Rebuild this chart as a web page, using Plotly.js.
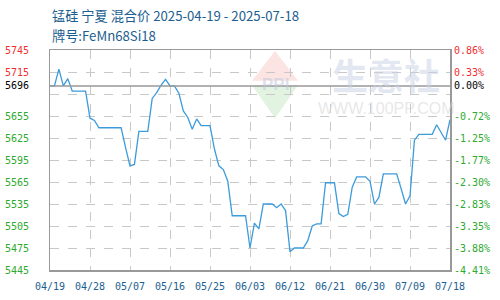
<!DOCTYPE html>
<html>
<head>
<meta charset="utf-8">
<script src="https://cdn.plot.ly/plotly-3.0.1.min.js"></script>
<style>html,body{margin:0;padding:0;background:#fff;}#chart{width:500px;height:300px;}</style>
</head>
<body>
<div id="chart"></div>
<script>
const dates = [
'2025-04-19','2025-04-20','2025-04-21','2025-04-22','2025-04-23','2025-04-24','2025-04-25','2025-04-26','2025-04-27','2025-04-28',
'2025-04-29','2025-04-30','2025-05-01','2025-05-02','2025-05-03','2025-05-04','2025-05-05','2025-05-06','2025-05-07','2025-05-08',
'2025-05-09','2025-05-10','2025-05-11','2025-05-12','2025-05-13','2025-05-14','2025-05-15','2025-05-16','2025-05-17','2025-05-18',
'2025-05-19','2025-05-20','2025-05-21','2025-05-22','2025-05-23','2025-05-24','2025-05-25','2025-05-26','2025-05-27','2025-05-28',
'2025-05-29','2025-05-30','2025-05-31','2025-06-01','2025-06-02','2025-06-03','2025-06-04','2025-06-05','2025-06-06','2025-06-07',
'2025-06-08','2025-06-09','2025-06-10','2025-06-11','2025-06-12','2025-06-13','2025-06-14','2025-06-15','2025-06-16','2025-06-17',
'2025-06-18','2025-06-19','2025-06-20','2025-06-21','2025-06-22','2025-06-23','2025-06-24','2025-06-25','2025-06-26','2025-06-27',
'2025-06-28','2025-06-29','2025-06-30','2025-07-01','2025-07-02','2025-07-03','2025-07-04','2025-07-05','2025-07-06','2025-07-07',
'2025-07-08','2025-07-09','2025-07-10','2025-07-11','2025-07-12','2025-07-13','2025-07-14','2025-07-15','2025-07-16','2025-07-17',
'2025-07-18'];
const prices = [
5696,5696,5719,5696,5706,5689,5689,5689,5689,5652,
5649,5639,5639,5639,5639,5639,5639,5612,5587,5589,
5634,5634,5634,5679,5687,5697,5705,5696,5696,5686,
5662,5653,5637,5651,5642,5642,5642,5610,5587,5582,
5566,5519,5519,5519,5519,5475,5509,5501,5535,5535,
5535,5530,5535,5526,5470,5475,5475,5475,5485,5505,
5508,5508,5564,5564,5564,5522,5518,5521,5558,5572,
5572,5572,5566,5535,5544,5576,5576,5576,5576,5556,
5535,5546,5622,5630,5630,5630,5630,5643,5632,5622,
5650];
const baseValue = 5696;
const xTickVals = ['2025-04-19','2025-04-28','2025-05-07','2025-05-16','2025-05-25','2025-06-03','2025-06-12','2025-06-21','2025-06-30','2025-07-09','2025-07-18'];
const xTickText = ['04/19','04/28','05/07','05/16','05/25','06/03','06/12','06/21','06/30','07/09','07/18'];
const gridVals = [5745,5715,5685,5655,5625,5595,5565,5535,5505,5475,5445];
const labelVals = [5745,5715,5696,5655,5625,5595,5565,5535,5505,5475,5445];
const leftLabels = ['5745','5715','5696','5655','5625','5595','5565','5535','5505','5475','5445'];
const rightLabels = ['0.86%','0.33%','0.00%','-0.72%','-1.25%','-1.77%','-2.30%','-2.83%','-3.35%','-3.88%','-4.41%'];

const RED = '#f03030', GREEN = '#2eaa2e', BLACK = '#000000';
function colorFor(v){ return v > baseValue ? RED : (v === baseValue ? BLACK : GREEN); }
const leftText = leftLabels.map((t,i)=>'<span style="color:'+colorFor(labelVals[i])+'">'+t+'</span>');
const rightText = rightLabels.map((t,i)=>'<span style="color:'+colorFor(labelVals[i])+'">'+t+'</span>');

const yRange = [5445, 5745];
const xRange = ['2025-04-19','2025-07-18'];
const tickFont = {family:'DejaVu Sans Mono, monospace', size:10, color:'#1b5e8f'};

const traces = [
  {x:dates, y:prices, type:'scatter', mode:'lines', line:{color:'#3b9bdb', width:1.3}, hoverinfo:'skip', xaxis:'x', yaxis:'y'},
  {x:[dates[0]], y:[prices[0]], type:'scatter', mode:'markers', marker:{opacity:0}, hoverinfo:'skip', xaxis:'x', yaxis:'y2'},
  {x:[dates[0]], y:[prices[0]], type:'scatter', mode:'markers', marker:{opacity:0}, hoverinfo:'skip', xaxis:'x', yaxis:'y3'}
];

const layout = {
  width:500, height:300,
  margin:{l:50, r:50, t:50, b:30},
  paper_bgcolor:'#fff', plot_bgcolor:'#fff',
  showlegend:false,
  font:{family:'DejaVu Sans Mono, monospace', size:10},
  xaxis:{type:'date', range:xRange, tickmode:'array', tickvals:xTickVals, ticktext:xTickText,
    showgrid:true, gridcolor:'#c8c8c8', griddash:'dash', gridwidth:1,
    showline:true, linecolor:'#999', linewidth:1.5, mirror:true, ticks:'', zeroline:false,
    tickfont:tickFont, ticklabelstandoff:6, fixedrange:true},
  yaxis:{range:yRange, tickmode:'array', tickvals:gridVals, showticklabels:false,
    showgrid:true, gridcolor:'#c8c8c8', griddash:'dash', gridwidth:1,
    showline:true, linecolor:'#999', linewidth:1.5, mirror:true, ticks:'', zeroline:false, fixedrange:true},
  yaxis2:{overlaying:'y', side:'left', range:yRange, tickmode:'array', tickvals:labelVals, ticktext:leftText,
    showgrid:false, zeroline:false, showline:false, ticks:'', tickfont:{family:'DejaVu Sans Mono, monospace', size:10},
    ticklabelstandoff:20, fixedrange:true},
  yaxis3:{overlaying:'y', side:'right', range:yRange, tickmode:'array', tickvals:labelVals, ticktext:rightText,
    showgrid:false, zeroline:false, showline:false, ticks:'', tickfont:{family:'DejaVu Sans Mono, monospace', size:10},
    ticklabelstandoff:3, fixedrange:true},
  shapes:[
    {type:'path', xref:'paper', yref:'paper', layer:'below',
     path:'M 0.505 0.86 L 0.5625 0.995 L 0.62 0.86 Z', fillcolor:'#fbe4e1', line:{width:0}},
    {type:'path', xref:'paper', yref:'paper', layer:'below',
     path:'M 0.505 0.84 L 0.62 0.84 L 0.5625 0.69 Z', fillcolor:'#e2f3e2', line:{width:0}},
    {type:'line', xref:'paper', yref:'y', x0:0, x1:1, y0:baseValue, y1:baseValue, line:{color:'#999', width:1.5}}
  ],
  annotations:[
    {xref:'paper', yref:'paper', x:0, y:1.159, xanchor:'left', yanchor:'middle', showarrow:false,
     text:'锰硅 宁夏 混合价 2025-04-19 - 2025-07-18', font:{family:'Noto Sans CJK SC', size:13.2, color:'#1b5e8f'}},
    {xref:'paper', yref:'paper', x:0, y:1.068, xanchor:'left', yanchor:'middle', showarrow:false,
     text:'牌号:FeMn68Si18', font:{family:'Noto Sans CJK SC', size:13.2, color:'#1b5e8f'}},
    {xref:'paper', yref:'paper', x:0.5625, y:0.845, xanchor:'center', yanchor:'middle', showarrow:false,
     text:'<b>PPI</b>', font:{family:'Liberation Sans', size:17, color:'rgba(190,200,220,0.55)'}},
    {xref:'paper', yref:'paper', x:0.84, y:0.89, xanchor:'center', yanchor:'middle', showarrow:false,
     text:'<b>生意社</b>', font:{family:'Noto Sans CJK SC', size:36, color:'rgba(200,208,228,0.5)'}},
    {xref:'paper', yref:'paper', x:0.84, y:0.735, xanchor:'center', yanchor:'middle', showarrow:false,
     text:'WWW.100PP.COM', font:{family:'Liberation Sans', size:16, color:'rgba(215,215,215,0.6)'}}
  ]
};

Plotly.newPlot('chart', traces, layout, {displayModeBar:false, staticPlot:true});
</script>
</body>
</html>
